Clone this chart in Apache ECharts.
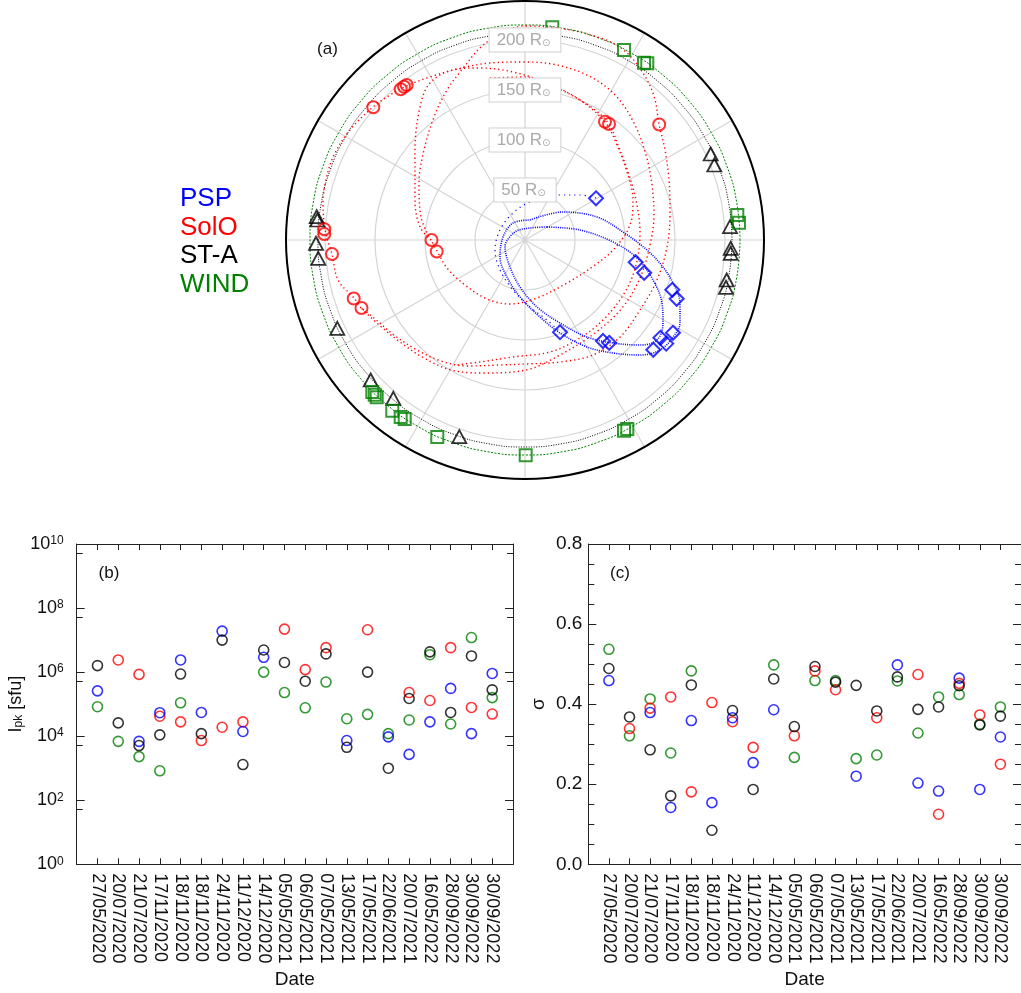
<!DOCTYPE html>
<html><head><meta charset="utf-8">
<script src="https://cdn.jsdelivr.net/npm/echarts@6/dist/echarts.min.js"></script>
<style>html,body{margin:0;padding:0;background:#fff}#chart{width:1021px;height:993px}</style>
</head><body><div id="chart"></div>
<script>
// ---------------- data ----------------
const dates = ['27/05/2020','20/07/2020','21/07/2020','17/11/2020','18/11/2020','18/11/2020','24/11/2020','11/12/2020','14/12/2020','05/05/2021','06/05/2021','07/05/2021','13/05/2021','17/05/2021','22/06/2021','20/07/2021','16/05/2022','28/09/2022','30/09/2022','30/09/2022'];

// (b) peak flux I_pk [sfu]
const ipkPSP  = [2.6e5, null, 6.9e3, 5.4e4, 2.4e6, 5.5e4, 1.9e7, 1.4e4, 2.9e6, null, null, null, 7.3e3, null, 9.5e3, 2.7e3, 2.8e4, 3.1e5, 1.2e4, 9.1e5];
const ipkSolO = [null, 2.4e6, 8.5e5, 4.2e4, 2.8e4, 7.3e3, 1.9e4, 2.8e4, null, 2.2e7, 1.2e6, 5.8e6, null, 2.1e7, null, 2.3e5, 1.3e5, 5.8e6, 7.9e4, 4.9e4];
const ipkSTA  = [1.6e6, 2.6e4, 5.1e3, 1.1e4, 8.7e5, 1.2e4, 1.0e7, 1.3e3, 4.9e6, 2.0e6, 5.2e5, 3.7e6, 4.5e3, 1.0e6, 1.0e3, 1.5e5, 4.3e6, 5.5e4, 3.2e6, 2.8e5];
const ipkWIND = [8.3e4, 6.9e3, 2.3e3, 8.3e2, 1.1e5, null, null, null, 1.0e6, 2.3e5, 7.7e4, 4.9e5, 3.5e4, 4.8e4, 1.2e4, 3.2e4, 3.5e6, 2.4e4, 1.2e7, 1.6e5];

// (c) sigma
const sigPSP  = [0.459, null, 0.379, 0.142, 0.359, 0.154, 0.366, 0.254, 0.386, null, null, null, 0.220, null, 0.498, 0.203, 0.183, 0.465, 0.187, 0.318];
const sigSolO = [null, 0.339, 0.390, 0.418, 0.181, 0.404, 0.356, 0.292, null, 0.321, 0.483, 0.436, null, 0.366, null, 0.474, 0.125, 0.452, 0.373, 0.250];
const sigSTA  = [0.489, 0.368, 0.286, 0.171, 0.448, 0.085, 0.384, 0.187, 0.463, 0.344, 0.494, 0.455, 0.447, 0.383, 0.468, 0.387, 0.393, 0.446, 0.348, 0.370];
const sigWIND = [0.537, 0.321, 0.413, 0.278, 0.483, null, null, null, 0.498, 0.267, 0.459, 0.459, 0.264, 0.273, 0.458, 0.328, 0.418, 0.424, 0.350, 0.393];

// (a) spacecraft positions, heliocentric x, y in solar radii
const posPSP  = [[71,41.7],[110.7,-22.2],[119.2,-32.8],[147.3,-49.8],[151.7,-58.8],[35,-92.2],[78,-101],[84.2,-102.8],[135.4,-97.8],[148,-92.8],[141.2,-103.6],[128.3,-109.8]];
const posSolO = [[-151.7,132.7],[-124.3,150.7],[-121,153.3],[-118.3,155],[-200.7,10.7],[-200.7,6],[-193,-14],[-171.3,-58.5],[-163.5,-68],[-93.5,0],[-88.3,-11.5],[80,118.3],[84,116],[134.2,115.5]];
const posSTA  = [[-208.3,23.3],[-207.7,20],[-209,-3.3],[-206.7,-18.3],[-187.7,-88.3],[-154.3,-140],[-131.7,-158.3],[-65.7,-196.7],[185.7,86],[189.3,75],[205,13.3],[205.7,-8.3],[205.7,-13.3],[201.7,-40],[201,-47.3]];
const posWIND = [[27.3,212.7],[99,190],[119,177.3],[122.3,176.7],[212.3,25],[214,17.3],[-152.7,-152],[-150.3,-154.7],[-148.3,-157.3],[-132.7,-170.7],[-124.3,-177],[-120.3,-179],[-87.7,-197],[0.7,-215.3],[99,-190.7],[102.3,-189]];

// (a) trajectories (x, y in solar radii)
const trackPSP1 = [[5,20],[38,28],[72,23],[98,8],[122,-10],[138,-27],[148,-43],[155,-63],[155,-83],[148,-97],[135,-110],[115,-115],[88,-113],[62,-107],[35,-93],[15,-77],[-5,-57],[-18,-37],[-25,-17],[-22,3],[-12,17],[5,20]];
const trackPSP2 = [[22,13],[55,10],[88,-2],[112,-18],[128,-40],[137,-63],[138,-83],[132,-100],[115,-105],[88,-103],[62,-97],[35,-83],[12,-67],[-5,-47],[-15,-27],[-20,-7],[-10,8],[5,12],[22,13]];
const trackPSP3 = [[71,42],[55,45],[32,45],[5,38],[-12,27],[-25,10],[-30,-10],[-25,-30],[-12,-50],[5,-67],[22,-80],[35,-92]];
const trackSolO1 = [[-94,0],[-105,13],[-110,40],[-110,90],[-105,133],[-95,157],[-72,170],[-45,172],[-12,168],[22,157],[55,140],[80,118],[92,95],[102,68],[108,40],[105,15],[90,-8],[70,-25],[42,-43],[12,-58],[-15,-64],[-38,-59],[-60,-45],[-78,-28],[-88,-11],[-94,0]];
const trackSolO2 = [[-94,0],[-104,23],[-106,57],[-101,90],[-91,123],[-78,150],[-61,173],[-44,193],[-25,206],[-1,214],[32,212],[66,205],[96,192],[116,170],[129,144],[134,116],[140,90],[144,60],[145,27],[142,-7],[132,-40],[115,-70],[95,-97],[68,-115],[35,-122],[1,-124],[-25,-125],[-58,-126],[-84,-121],[-108,-110],[-131,-95],[-151,-78],[-164,-68]];
const trackSolO3 = [[-164,-68],[-171,-58],[-187,-40],[-193,-14],[-199,6],[-202,35],[-199,60],[-191,85],[-175,110],[-152,133],[-135,145],[-121,153],[-95,163],[-68,171],[-35,177],[-1,178],[32,175],[66,163],[92,143],[110,115],[121,85],[127,55],[129,25],[125,-5],[115,-38],[97,-68],[70,-93],[35,-115],[1,-130],[-41,-133],[-74,-130],[-101,-118],[-125,-102],[-147,-84],[-164,-68]];
const trackSolO4 = [[-35,162],[-1,163],[32,152],[66,133],[84,116],[93,95],[103,68],[111,40],[115,7],[111,-25],[100,-52],[80,-78],[55,-98],[25,-112],[-12,-117],[-45,-122],[-70,-125]];

// orbits of ST-A and Earth/WIND (radius in solar radii), sampled angles in degrees
const orbitRadiusSTA = 207;
const orbitRadiusWIND = 215;
const orbitAngles = [0,10,20,30,40,50,60,70,80,90,100,110,120,130,140,150,160,170,180,190,200,210,220,230,240,250,260,270,280,290,300,310,320,330,340,350,360];
const radiusTicks = [50,100,150,200];
const names = ['PSP','SolO','ST-A','WIND'];

// ---------------- styling ----------------
const FONT = '"Liberation Sans", Arial, Helvetica, sans-serif';
const COL = {PSP:'#0000ff', SolO:'#ff0000', STA:'#000000', WIND:'#008000'};
const AX = '#222';
const RMAX = 239;

function pairs(arr){ const out=[]; arr.forEach((v,i)=>{ if(v!=null) out.push([i,v]); }); return out; }
function hollow(color, symbol, size, bw){
  return {symbol, symbolSize:size, itemStyle:{color:'rgba(255,255,255,0)', borderColor:color, borderWidth:bw}};
}
function dateFmt(v){ return (Number.isInteger(v) && v>=0 && v<dates.length) ? dates[v] : ''; }

const gridB = {left:76.7, top:544, width:436.3, height:320.3};
const gridC = {left:588.3, top:544, width:436.8, height:320.3};

function xBottom(gi){
  return {gridIndex:gi, type:'value', min:-1, max:20, interval:1, position:'bottom',
    axisLine:{show:true, onZero:false, lineStyle:{color:AX, width:1}},
    axisTick:{show:true, inside:true, length:6, lineStyle:{color:AX}},
    axisLabel:{show:true, rotate:-90, margin:9, fontSize:18, color:'#111', fontFamily:FONT, formatter:dateFmt, showMinLabel:true, showMaxLabel:true},
    splitLine:{show:false},
    name:'Date', nameLocation:'middle', nameGap:106, nameTextStyle:{fontSize:19, color:'#111', fontFamily:FONT}};
}
function xTop(gi){
  return {gridIndex:gi, type:'value', min:-1, max:20, interval:1, position:'top',
    axisLine:{show:true, onZero:false, lineStyle:{color:AX, width:1}},
    axisTick:{show:true, inside:true, length:6, lineStyle:{color:AX}},
    axisLabel:{show:false}, splitLine:{show:false}};
}
const logLabel = {
  show:true, margin:13, color:'#111', fontFamily:FONT,
  formatter: v => '{b|10}{s|' + Math.round(Math.log10(v)) + '}',
  rich:{ b:{fontSize:18, fontFamily:FONT, color:'#111', verticalAlign:'bottom'},
         s:{fontSize:12, fontFamily:FONT, color:'#111', verticalAlign:'top'} }
};
function yLog(gi, pos){
  return {gridIndex:gi, type:'log', logBase:10, min:1, max:1e10, interval:2, position:pos,
    axisLine:{show:true, onZero:false, lineStyle:{color:AX, width:1}},
    axisTick:{show:true, inside:true, length:8, lineStyle:{color:AX}},
    minorTick:{show:true, splitNumber:2, length:6, lineStyle:{color:AX}},
    axisLabel: pos==='left' ? logLabel : {show:false},
    splitLine:{show:false}, minorSplitLine:{show:false},
    name: pos==='left' ? '{i|I}{s|pk}{i| [sfu]}' : '', nameLocation:'middle', nameGap:52, nameRotate:90,
    nameTextStyle:{fontSize:18, color:'#111', fontFamily:FONT,
      rich:{ i:{fontSize:18, fontFamily:FONT, color:'#111', verticalAlign:'top'},
             s:{fontSize:12, fontFamily:FONT, color:'#111', verticalAlign:'bottom'} }}};
}
function ySig(gi, pos){
  return {gridIndex:gi, type:'value', min:0, max:0.8, interval:0.2, position:pos,
    axisLine:{show:true, onZero:false, lineStyle:{color:AX, width:1}},
    axisTick:{show:true, inside:true, length:8, lineStyle:{color:AX}},
    minorTick:{show:true, splitNumber:4, length:6, lineStyle:{color:AX}},
    axisLabel: pos==='left' ? {show:true, margin:6, fontSize:19, color:'#111', fontFamily:FONT, formatter: v => v.toFixed(1)} : {show:false},
    splitLine:{show:false}, minorSplitLine:{show:false},
    name: pos==='left' ? '\u03c3' : '', nameLocation:'middle', nameGap:40, nameRotate:90,
    nameTextStyle:{fontSize:19, color:'#111', fontFamily:FONT}};
}

const series = [];
// orbits of ST-A and WIND (polar)
series.push({type:'line', coordinateSystem:'polar', polarIndex:0, silent:true, smooth:true, symbol:'none', z:2,
  data: orbitAngles.map(a => [orbitRadiusSTA, a]), lineStyle:{color:'#000', width:1, type:[1,1.5]}});
series.push({type:'line', coordinateSystem:'polar', polarIndex:0, silent:true, smooth:true, symbol:'none', z:2,
  data: orbitAngles.map(a => [orbitRadiusWIND, a]), lineStyle:{color:COL.WIND, width:1, type:[2,1.5]}});
// trajectories (cartesian overlay with same scale)
[trackSolO1, trackSolO2, trackSolO3, trackSolO4].forEach(t => series.push({type:'line', xAxisIndex:0, yAxisIndex:0, silent:true, smooth:0.35, symbol:'none', z:2,
  data:t, lineStyle:{color:COL.SolO, width:1.4, type:[1.3,3]}}));
[trackPSP1, trackPSP2, trackPSP3].forEach((t,i) => series.push({type:'line', xAxisIndex:0, yAxisIndex:0, silent:true, smooth:0.35, symbol:'none', z:2,
  data:t, lineStyle:{color:COL.PSP, width: i<2 ? 1.6 : 1.2, type: i<2 ? [1,1.2] : [1.2,4]}}));
// positions
series.push(Object.assign({type:'scatter', xAxisIndex:0, yAxisIndex:0, z:4, data:posSTA}, hollow(COL.STA,'triangle',[14,13],1.8)));
series.push(Object.assign({type:'scatter', xAxisIndex:0, yAxisIndex:0, z:4, data:posWIND}, hollow(COL.WIND,'rect',12,2)));
series.push(Object.assign({type:'scatter', xAxisIndex:0, yAxisIndex:0, z:4, data:posSolO}, hollow(COL.SolO,'circle',12,2)));
series.push(Object.assign({type:'scatter', xAxisIndex:0, yAxisIndex:0, z:4, data:posPSP}, hollow(COL.PSP,'diamond',14,2)));

// (b)
[[ipkWIND,COL.WIND],[ipkSolO,COL.SolO],[ipkPSP,COL.PSP],[ipkSTA,COL.STA]].forEach(([arr,c]) =>
  series.push(Object.assign({type:'scatter', xAxisIndex:1, yAxisIndex:1, data:pairs(arr)}, hollow(c,'circle',10,1.6))));
// (c)
[[sigWIND,COL.WIND],[sigSolO,COL.SolO],[sigPSP,COL.PSP],[sigSTA,COL.STA]].forEach(([arr,c]) =>
  series.push(Object.assign({type:'scatter', xAxisIndex:3, yAxisIndex:3, data:pairs(arr)}, hollow(c,'circle',10,1.6))));

const legendCols = [COL.PSP, COL.SolO, COL.STA, COL.WIND];
const legendY = [199, 227.5, 256, 284.5];
const graphics = names.map((n,i) => ({type:'text', x:180, y:legendY[i], z:20,
  style:{text:n, fill:legendCols[i], fontSize:26, fontFamily:FONT, verticalAlign:'middle', textVerticalAlign:'middle'}}));
graphics.push({type:'text', x:327.5, y:49, z:20, style:{text:'(a)', fill:'#111', fontSize:17, fontFamily:FONT, align:'center', verticalAlign:'middle', textAlign:'center', textVerticalAlign:'middle'}});
graphics.push({type:'text', x:109, y:573, z:20, style:{text:'(b)', fill:'#111', fontSize:17, fontFamily:FONT, align:'center', verticalAlign:'middle', textAlign:'center', textVerticalAlign:'middle'}});
graphics.push({type:'text', x:620, y:573, z:20, style:{text:'(c)', fill:'#111', fontSize:17, fontFamily:FONT, align:'center', verticalAlign:'middle', textAlign:'center', textVerticalAlign:'middle'}});

const option = {
  animation:false,
  backgroundColor:'#fff',
  textStyle:{fontFamily:FONT},
  polar:[{center:[525,240], radius:RMAX},{center:[525,240], radius:RMAX}],
  angleAxis:[
    {polarIndex:0, type:'value', min:0, max:360, interval:30, startAngle:0, clockwise:false,
      axisLine:{show:true, lineStyle:{color:'#000', width:2}}, axisTick:{show:false}, axisLabel:{show:false},
      splitLine:{show:true, lineStyle:{color:'#d4d4d4', width:1.2}}},
    {polarIndex:1, type:'value', min:0, max:360, startAngle:90, show:false}
  ],
  radiusAxis:[
    {polarIndex:0, type:'value', min:0, max:RMAX, interval:50, axisLine:{show:false}, axisTick:{show:false}, axisLabel:{show:false},
      splitLine:{show:true, lineStyle:{color:'#d4d4d4', width:1.2}}},
    {polarIndex:1, type:'value', min:0, max:RMAX, interval:50, z:10, axisLine:{show:false}, axisTick:{show:false}, splitLine:{show:false},
      axisLabel:{show:true, showMinLabel:false, showMaxLabel:false, margin:0, align:'center', verticalAlign:'middle',
        formatter: v => radiusTicks.includes(v) ? '{t|' + v + ' R}{s|\u2299}' : '',
        backgroundColor:'#fff', borderColor:'#d0d0d0', borderWidth:1, padding:[3,10,3,7],
        rich:{ t:{fontSize:17, color:'#aaaaaa', fontFamily:FONT, verticalAlign:'top'},
               s:{fontSize:10, color:'#aaaaaa', fontFamily:'DejaVu Sans', verticalAlign:'bottom'} }}}
  ],
  grid:[
    {left:525-RMAX, top:240-RMAX, width:2*RMAX, height:2*RMAX, show:false},
    gridB, gridC
  ],
  xAxis:[
    {gridIndex:0, type:'value', min:-RMAX, max:RMAX, show:false},
    xBottom(1), xTop(1), xBottom(2), xTop(2)
  ],
  yAxis:[
    {gridIndex:0, type:'value', min:-RMAX, max:RMAX, show:false},
    yLog(1,'left'), yLog(1,'right'), ySig(2,'left'), ySig(2,'right')
  ],
  graphic: graphics,
  series
};
const chart = echarts.init(document.getElementById('chart'), null, {renderer:'canvas'});
chart.setOption(option);
</script>
</body></html>
